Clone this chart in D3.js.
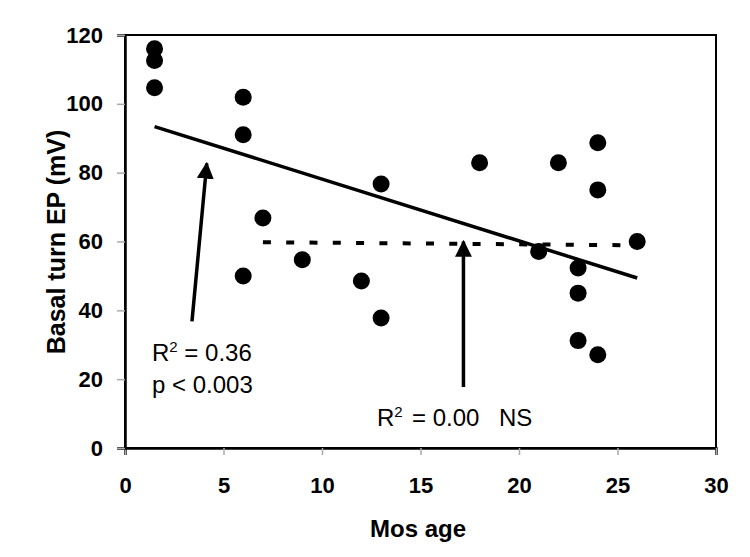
<!DOCTYPE html>
<html><head><meta charset="utf-8">
<script src="https://cdn.jsdelivr.net/npm/d3@7"></script>
<style>body{margin:0;background:#fff}svg{display:block}</style>
</head><body>
<script>
// Data
const ages = [1.5, 1.5, 1.5, 6, 6, 6, 7, 9, 12, 13, 13, 18, 21, 22, 23, 23, 23, 24, 24, 24, 26];
const ep   = [116, 112.6, 104.7, 101.9, 91, 50, 66.8, 54.7, 48.5, 76.7, 37.8, 82.9, 57.1, 82.9, 52.3, 45, 31.2, 88.7, 75, 27.1, 60];
const fitAll = [[1.5, 93.4], [26, 49.4]];
const fitLate = [[7, 59.8], [26, 58.9]];
const xTicks = [0, 5, 10, 15, 20, 25, 30];
const yTicks = [0, 20, 40, 60, 80, 100, 120];
const arrow1 = [[3.4, 36.8], [4.15, 82.7]];
const arrow2 = [[17.18, 17.7], [17.18, 60]];

const W = 750, H = 557;
const m = {left:125, top:35, right:34, bottom:109};
const x = d3.scaleLinear().domain([0,30]).range([m.left, W - m.right]);
const y = d3.scaleLinear().domain([0,120]).range([H - m.bottom, m.top]);
const FF = "'Liberation Sans', Arial, sans-serif";

const svg = d3.select("body").append("svg").attr("width", W).attr("height", H)
  .style("font-family", FF);

// frame
svg.append("rect").attr("x", x(0)).attr("y", y(120)).attr("width", x(30)-x(0)).attr("height", y(0)-y(120))
  .attr("fill","none").attr("stroke","#000").attr("stroke-width",2);

// axes
const xAxis = svg.append("g").attr("transform", `translate(0,${y(0)})`)
  .call(d3.axisBottom(x).tickValues(xTicks).tickSize(7).tickFormat(d3.format("d")));
const yAxis = svg.append("g").attr("transform", `translate(${x(0)},0)`)
  .call(d3.axisLeft(y).tickValues(yTicks).tickSize(8).tickPadding(14).tickFormat(d3.format("d")));
[xAxis, yAxis].forEach(a => {
  a.select(".domain").attr("stroke","#000").attr("stroke-width",2.5);
  a.selectAll(".tick line").attr("stroke","#aaa").attr("stroke-width",1.5);
  a.selectAll(".tick text").attr("fill","#000").style("font-size","22px").style("font-weight","bold")
   .style("font-family", FF);
});
xAxis.selectAll(".tick text").attr("y", 45).attr("dy", 0);

// axis titles
svg.append("text").attr("x", 418).attr("y", 537).attr("text-anchor","middle")
  .style("font-size","24px").style("font-weight","bold").text("Mos age");
svg.append("text").attr("transform", `translate(65,242) rotate(-90)`).attr("text-anchor","middle")
  .style("font-size","25px").style("font-weight","bold").text("Basal turn EP (mV)");

// regression lines
const line = d3.line().x(d => x(d[0])).y(d => y(d[1]));
svg.append("path").attr("d", line(fitAll)).attr("stroke","#000").attr("stroke-width",3.5).attr("fill","none");
svg.append("path").attr("d", line(fitLate)).attr("stroke","#000").attr("stroke-width",4).attr("fill","none")
  .attr("stroke-dasharray","8,15.3");

// points
svg.append("g").selectAll("circle").data(ages.map((a,i)=>[a, ep[i]])).join("circle")
  .attr("cx", d => x(d[0])).attr("cy", d => y(d[1])).attr("r", 8.5).attr("fill","#000");

// arrows
svg.append("defs").append("marker").attr("id","ah").attr("viewBox","0 0 10 10")
  .attr("refX",9).attr("refY",5).attr("markerWidth",17).attr("markerHeight",17)
  .attr("markerUnits","userSpaceOnUse").attr("orient","auto")
  .append("path").attr("d","M0,0 L10,5 L0,10 Z").attr("fill","#000");
[arrow1, arrow2].forEach(a => {
  svg.append("path").attr("d", line(a)).attr("stroke","#000").attr("stroke-width",3.5)
    .attr("fill","none").attr("marker-end","url(#ah)");
});

// annotations
const t1 = svg.append("text").attr("x",152).attr("y",361).style("font-size","24px");
t1.append("tspan").text("R");
t1.append("tspan").attr("dy",-9).style("font-size","15px").text("2");
t1.append("tspan").attr("dy",9).text(" = 0.36");
svg.append("text").attr("x",152).attr("y",393).style("font-size","24px").text("p < 0.003");
const t2 = svg.append("text").attr("y",426).style("font-size","24px");
t2.append("tspan").attr("x",377).text("R");
t2.append("tspan").attr("dy",-9).style("font-size","15px").text("2");
t2.append("tspan").attr("dy",9).attr("x",412).text("= 0.00");
t2.append("tspan").attr("x",499).text("NS");
</script>
</body></html>
